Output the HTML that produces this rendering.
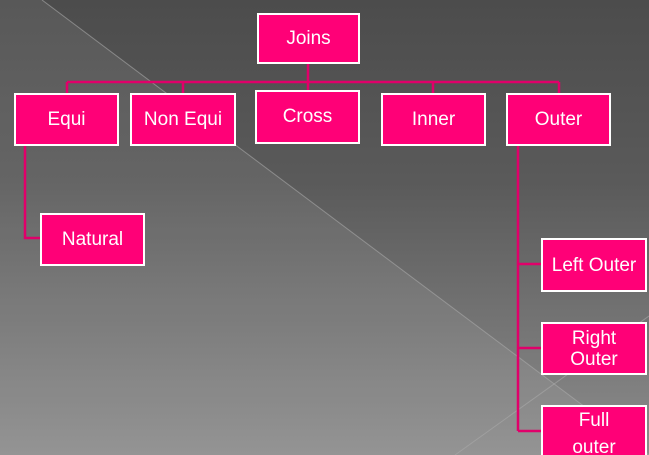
<!DOCTYPE html>
<html style="overflow:hidden;height:455px"><head><style>
body{margin:0;width:649px;height:455px;overflow:hidden;position:relative;font-family:"Liberation Sans",sans-serif;
background:linear-gradient(180deg,#4c4c4c 0%,#5a5a5a 40%,#8c8c8c 100%);}
.b{position:absolute;background:#ff0077;border:2px solid #fff;box-sizing:border-box;color:#fff;font-size:19px;display:flex;align-items:center;justify-content:center;text-align:center;line-height:21px;overflow:hidden}
svg{position:absolute;left:0;top:0}
</style></head><body>
<svg width="649" height="455">
<polygon points="0,0 42,0 649,455 0,455" fill="#fff" opacity="0.07"/>
<line x1="42" y1="0" x2="649" y2="455" stroke="#aaa" stroke-width="1" opacity="0.6"/>
<line x1="455" y1="455" x2="649" y2="316" stroke="#aaa" stroke-width="1" opacity="0.6"/>
<g stroke="#e0006a" stroke-width="2.5" fill="none">
<line x1="308" y1="63" x2="308" y2="82"/>
<line x1="67" y1="82" x2="559" y2="82"/>
<line x1="67" y1="82" x2="67" y2="93"/>
<line x1="183" y1="82" x2="183" y2="93"/>
<line x1="308" y1="82" x2="308" y2="91"/>
<line x1="433" y1="82" x2="433" y2="93"/>
<line x1="559" y1="82" x2="559" y2="93"/>
<polyline points="25,145 25,238 41,238"/>
<line x1="518" y1="145" x2="518" y2="431"/>
<line x1="518" y1="264" x2="542" y2="264"/>
<line x1="518" y1="348" x2="542" y2="348"/>
<line x1="518" y1="431" x2="542" y2="431"/>
</g></svg>
<div class="b" style="left:257px;top:13px;width:103px;height:51px">Joins</div>
<div class="b" style="left:14px;top:93px;width:105px;height:53px">Equi</div>
<div class="b" style="left:130px;top:93px;width:106px;height:53px">Non Equi</div>
<div class="b" style="left:255px;top:90px;width:105px;height:54px;padding-bottom:2px">Cross</div>
<div class="b" style="left:381px;top:93px;width:105px;height:53px">Inner</div>
<div class="b" style="left:506px;top:93px;width:105px;height:53px">Outer</div>
<div class="b" style="left:40px;top:213px;width:105px;height:53px">Natural</div>
<div class="b" style="left:541px;top:238px;width:106px;height:54px">Left Outer</div>
<div class="b" style="left:541px;top:322px;width:106px;height:53px">Right<br>Outer</div>
<div class="b" style="left:541px;top:405px;width:106px;height:50px;border-bottom:none;align-items:flex-start;line-height:27px;padding-top:0">Full<br>outer</div>
</body></html>
